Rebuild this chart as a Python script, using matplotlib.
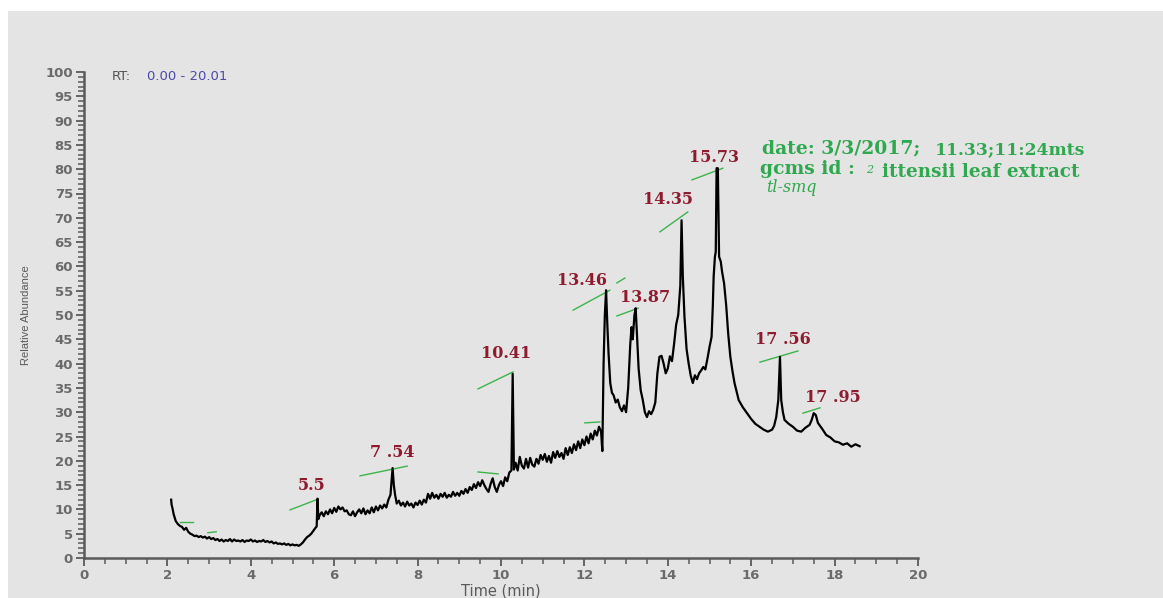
import matplotlib
matplotlib.use("Agg")
import matplotlib.pyplot as plt
from matplotlib.patches import Rectangle
from matplotlib.ticker import MultipleLocator

# ---- data: chromatogram trace (retention time, relative abundance) ----
rt = [2.09, 2.10, 2.12, 2.15, 2.2, 2.25, 2.3, 2.35, 2.4, 2.45, 2.5, 2.55, 2.6, 2.65, 2.7, 2.75, 2.8, 2.85, 2.9, 2.95,
      3.0, 3.05, 3.1, 3.15, 3.2, 3.25, 3.3, 3.35, 3.4, 3.45, 3.5, 3.55, 3.6, 3.65, 3.7, 3.75, 3.8, 3.85, 3.9, 3.95,
      4.0, 4.05, 4.1, 4.15, 4.2, 4.25, 4.3, 4.35, 4.4, 4.45, 4.5, 4.55, 4.6, 4.65, 4.7, 4.75, 4.8, 4.85, 4.9, 4.95,
      5.0, 5.05, 5.1, 5.15, 5.2, 5.25, 5.3, 5.35, 5.4, 5.45, 5.5, 5.55, 5.58, 5.6, 5.62, 5.65, 5.7, 5.75, 5.8, 5.85,
      5.9, 5.95, 6.0, 6.05, 6.1, 6.15, 6.2, 6.25, 6.3, 6.35, 6.4, 6.45, 6.5, 6.55, 6.6, 6.65, 6.7, 6.75, 6.8, 6.85,
      6.9, 6.95, 7.0, 7.05, 7.1, 7.15, 7.2, 7.25, 7.3, 7.35, 7.4, 7.43, 7.46, 7.5, 7.55, 7.6, 7.65, 7.7, 7.75, 7.8,
      7.85, 7.9, 7.95, 8.0, 8.05, 8.1, 8.15, 8.2, 8.25, 8.3, 8.35, 8.4, 8.45, 8.5, 8.55, 8.6, 8.65, 8.7, 8.75, 8.8,
      8.85, 8.9, 8.95, 9.0, 9.05, 9.1, 9.15, 9.2, 9.25, 9.3, 9.35, 9.4, 9.45, 9.5, 9.55, 9.6, 9.65, 9.7, 9.75, 9.8,
      9.85, 9.9, 9.95, 10.0, 10.05, 10.1, 10.15, 10.2, 10.25, 10.28, 10.31, 10.35, 10.4, 10.45, 10.5, 10.55, 10.6,
      10.65, 10.7, 10.75, 10.8, 10.85, 10.9, 10.95, 11.0, 11.05, 11.1, 11.15, 11.2, 11.25, 11.3, 11.35, 11.4, 11.45,
      11.5, 11.55, 11.6, 11.65, 11.7, 11.75, 11.8, 11.85, 11.9, 11.95, 12.0, 12.05, 12.1, 12.15, 12.2, 12.25, 12.3,
      12.35, 12.4, 12.43, 12.46, 12.49, 12.52, 12.55, 12.58, 12.62, 12.66, 12.7, 12.75, 12.8, 12.85, 12.9, 12.95,
      13.0, 13.05, 13.1, 13.13, 13.16, 13.2, 13.23, 13.26, 13.3, 13.35, 13.4, 13.45, 13.5, 13.55, 13.6, 13.65, 13.7,
      13.75, 13.8, 13.85, 13.9, 13.95, 14.0, 14.05, 14.1, 14.15, 14.2, 14.25, 14.3, 14.33, 14.36, 14.4, 14.45, 14.5,
      14.55, 14.6, 14.65, 14.7, 14.75, 14.8, 14.85, 14.9, 14.95, 15.0, 15.05, 15.08, 15.1, 15.13, 15.15, 15.17, 15.2,
      15.23, 15.27, 15.3, 15.35, 15.4, 15.45, 15.5, 15.55, 15.6, 15.7, 15.8, 15.9, 16.0, 16.1, 16.2, 16.3, 16.4,
      16.5, 16.55, 16.6, 16.65, 16.69, 16.72, 16.76, 16.8, 16.9, 17.0, 17.1, 17.2, 17.3, 17.4, 17.45, 17.5, 17.55,
      17.6, 17.7, 17.8, 17.9, 18.0, 18.1, 18.2, 18.3, 18.4, 18.5, 18.6]
abundance = [12.0, 11.0, 10.3, 9.0, 7.6, 7.0, 6.6, 6.4, 5.8, 6.2, 5.4, 5.0, 4.8, 4.5, 4.6, 4.3, 4.5, 4.2, 4.4, 4.0,
             4.3, 3.9, 4.1, 3.7, 3.9, 3.5, 3.8, 3.4, 3.7, 3.5, 3.9, 3.4, 3.8, 3.5, 3.6, 3.4, 3.7, 3.3, 3.6, 3.5,
             3.8, 3.4, 3.6, 3.3, 3.5, 3.4, 3.7, 3.3, 3.5, 3.2, 3.4, 3.0, 3.2, 2.9, 3.0, 2.8, 3.0, 2.7, 2.9, 2.6,
             2.8, 2.6, 2.7, 2.5, 2.8, 3.2, 3.8, 4.3, 4.6, 5.0, 5.6, 6.2, 6.5, 12.2, 8.0, 8.8, 9.4, 8.6, 9.6, 9.0,
             10.0, 9.2, 10.3, 9.5, 10.6, 10.0, 10.4, 9.6, 9.8, 9.0, 8.8, 9.6, 8.6, 9.4, 10.0, 9.2, 10.2, 9.0, 9.8, 9.2,
             10.4, 9.4, 10.6, 9.8, 10.8, 10.2, 11.0, 10.4, 12.0, 13.0, 18.5, 15.0, 13.0, 11.2, 11.8, 10.8, 11.4, 10.6, 11.6, 10.8,
             11.2, 10.4, 11.4, 10.9, 11.8, 11.0, 12.0, 11.4, 13.2, 12.2, 13.4, 12.4, 13.0, 12.2, 13.2, 12.6, 13.4, 12.4, 13.0, 12.6,
             13.6, 12.8, 13.4, 12.8, 13.8, 13.2, 14.2, 13.4, 14.6, 14.0, 15.2, 14.4, 15.6, 14.8, 16.0, 15.0, 14.2, 13.6, 15.2, 16.4,
             14.6, 13.6, 15.0, 15.8, 14.8, 16.6, 15.8, 17.6, 18.0, 37.9, 18.2, 19.6, 18.0, 20.8, 19.0, 18.4, 20.4,
             18.6, 20.6, 19.2, 18.8, 20.4, 19.4, 21.2, 20.2, 21.4, 19.8, 21.0, 19.6, 21.8, 20.6, 22.0, 20.8, 21.6,
             20.4, 22.6, 21.2, 22.8, 21.6, 23.4, 22.2, 24.0, 22.6, 24.4, 23.2, 25.0, 23.6, 25.6, 24.4, 26.2, 25.2,
             27.0, 26.0, 22.0, 40.0, 50.0, 55.1, 48.0, 42.0, 36.0, 34.0, 33.5, 32.0, 32.6, 31.0, 30.2, 31.4,
             30.0, 35.0, 44.0, 47.5, 45.0, 50.0, 51.4, 46.0, 39.0, 34.5, 32.5, 30.0, 29.0, 30.2, 29.6, 30.5, 32.0,
             38.0, 41.4, 41.6, 40.0, 38.0, 39.0, 41.5, 40.5, 44.0, 48.0, 50.0, 56.0, 69.5, 58.0, 49.6, 43.0, 40.0,
             37.5, 36.0, 37.6, 36.8, 38.0, 38.6, 39.3, 38.8, 41.0, 43.4, 45.5, 52.0, 58.0, 62.0, 63.0, 80.2, 80.2,
             62.0, 61.0, 59.0, 56.5, 52.0, 46.0, 41.4, 38.5, 36.0, 32.5, 31.0, 29.8, 28.6, 27.6, 27.0, 26.4, 26.0,
             26.4, 27.2, 29.0, 32.5, 41.4, 32.5, 30.0, 28.4, 27.6, 27.0, 26.2, 26.0, 26.8, 27.4, 28.4, 29.8, 29.4,
             27.8, 26.6, 25.3, 24.8, 24.0, 23.8, 23.3, 23.6, 22.9, 23.4, 23.0]

# ---- peak labels ----
peak_labels = ["5.5", "7 .54", "10.41", "13.46", "13.87", "14.35", "15.73", "17 .56", "17 .95"]
label_x = [5.47, 7.39, 10.12, 11.94, 13.45, 14.0, 15.1, 16.76, 17.96]
label_y = [15.0, 21.8, 42.0, 57.0, 53.5, 73.7, 82.5, 44.9, 33.1]

# ---- green marker strokes (x0, x1, y0, y1) ----
mark_x0 = [4.94, 6.62, 9.45, 9.45, 12.01, 11.73, 12.78, 12.78, 13.81, 14.58, 16.21, 17.24, 2.30, 2.97]
mark_x1 = [5.61, 7.75, 9.93, 10.29, 12.37, 12.61, 12.97, 13.29, 14.48, 15.32, 17.12, 17.65, 2.62, 3.17]
mark_y0 = [9.9, 16.9, 17.7, 34.8, 27.8, 51.0, 56.6, 49.8, 67.1, 77.8, 40.3, 29.8, 7.4, 5.2]
mark_y1 = [12.1, 18.9, 17.3, 38.3, 28.0, 55.1, 57.6, 51.4, 71.2, 80.2, 42.6, 30.9, 7.4, 5.4]

W, H = 1163, 598
fig = plt.figure(figsize=(W / 100, H / 100), dpi=100)
fig.patch.set_facecolor("white")
bg = Rectangle((8 / W, 0), 1, (H - 11) / H, transform=fig.transFigure,
               facecolor="#e4e4e4", edgecolor="none", zorder=-10)
fig.patches.append(bg)

ax = fig.add_axes([84 / W, (H - 558) / H, (918 - 84) / W, (558 - 72) / H])
ax.set_zorder(5)
ax.set_facecolor("none")
ax.set_xlim(0, 20)
ax.set_ylim(0, 100)

for s in ["top", "right"]:
    ax.spines[s].set_visible(False)
for s in ["left", "bottom"]:
    ax.spines[s].set_color("#5a5a5a")
    ax.spines[s].set_linewidth(1.8)

ax.xaxis.set_major_locator(MultipleLocator(2))
ax.xaxis.set_minor_locator(MultipleLocator(0.5))
ax.yaxis.set_major_locator(MultipleLocator(5))
ax.yaxis.set_minor_locator(MultipleLocator(1))
ax.tick_params(which="major", length=6, width=1.3, color="#5a5a5a", labelcolor="#6a6a6a",
               labelsize=9.5, pad=2)
ax.tick_params(which="minor", length=4, width=1.1, color="#5a5a5a")
for lab in ax.get_xticklabels() + ax.get_yticklabels():
    lab.set_fontfamily("DejaVu Sans")
    lab.set_fontweight("bold")

ax.set_xlabel("Time (min)", fontsize=10.5, color="#5a5a5a", family="DejaVu Sans", labelpad=1)
ax.set_ylabel("Relative Abundance", fontsize=8, color="#5a5a5a", family="Liberation Sans", labelpad=10)

# trace
ax.plot(rt, abundance, color="black", linewidth=1.6, zorder=3)

# green marker strokes
for x0, x1, y0, y1 in zip(mark_x0, mark_x1, mark_y0, mark_y1):
    ax.plot([x0, x1], [y0, y1], color="#3cb44b", linewidth=1.0, zorder=2)

# peak labels
for t, x, y in zip(peak_labels, label_x, label_y):
    ax.text(x, y, t, color="#8e1b2e", fontsize=11.5, fontweight="bold", family="DejaVu Serif",
            ha="center", va="center", zorder=4)

# RT header
fig.text(112 / W, (H - 76) / H, "RT:", fontsize=9.5, color="#555555",
         family="DejaVu Sans", va="center", ha="left")
fig.text(147 / W, (H - 76) / H, "0.00 - 20.01", fontsize=9.5,
         color="#4a4aa8", family="DejaVu Sans", va="center", ha="left")

# green notes
green = "#2fa84f"
fig.text(762 / W, (H - 148) / H, "date: 3/3/2017;", fontsize=13.5, color=green, family="DejaVu Serif",
         fontweight="bold", va="center", ha="left")
fig.text(935 / W, (H - 150) / H, "11.33;11:24mts", fontsize=12.3, color=green, family="DejaVu Serif",
         fontweight="bold", va="center", ha="left")
fig.text(760 / W, (H - 169) / H, "gcms id :", fontsize=13.5, color=green, family="DejaVu Serif",
         fontweight="bold", va="center", ha="left")
fig.text(866 / W, (H - 170) / H, "2", fontsize=8, color=green, family="DejaVu Serif",
         style="italic", va="center", ha="left")
fig.text(882 / W, (H - 172) / H, "ittensii leaf extract", fontsize=13.2, color=green, family="DejaVu Serif",
         fontweight="bold", va="center", ha="left")
fig.text(766 / W, (H - 187) / H, "tl-smq", fontsize=11.5, color=green, family="DejaVu Serif",
         style="italic", va="center", ha="left")

fig.savefig("out.png", dpi=100)
